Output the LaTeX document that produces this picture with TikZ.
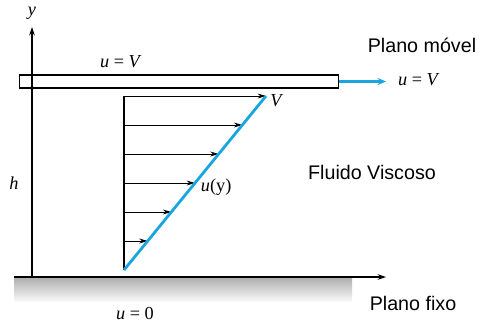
\documentclass[tikz,border=0pt]{standalone}
\usepackage{fontspec}
\setmainfont{Liberation Sans}
\newfontfamily\timesfont{Liberation Serif}
\usetikzlibrary{arrows.meta,calc}

\definecolor{flowblue}{HTML}{1BA5DF}
\newcommand{\tv}[1]{{\itshape #1}}

\tikzset{
  axisarrow/.style={thick,-{Stealth[length=6pt,width=4pt]}},
  velarrow/.style={semithick,-{Stealth[length=6pt,width=3.5pt]}},
  plaintext/.style={font=\fontsize{14}{16}\selectfont},
  mathlabel/.style={font=\fontsize{13}{15}\selectfont\timesfont}
}

\begin{document}
\begin{tikzpicture}[x=0.025cm,y=0.025cm]
\useasboundingbox (0,0) rectangle (484,324);

% Fixed plane (shaded)
\shade[top color=gray!65,bottom color=gray!5] (14,23) rectangle (352,47);
\coordinate (G0) at (14,47);
\coordinate (G1) at (386,47);
\draw[axisarrow] (G0) -- (G1);

% y axis
\coordinate (A0) at (32,47);
\coordinate (A1) at (32,297);
\draw[axisarrow] (A0) -- (A1);
\node[mathlabel] (ylab) at (32,311) {\tv{y}};

% Moving plane
\node[draw,thick,minimum width=319*0.025cm,minimum height=13*0.025cm,inner sep=0pt,anchor=west] (plate) at (19,242.5) {};
\coordinate (M1) at (386,242.5);
\draw[flowblue,line width=1.6pt,-{Stealth[length=6pt,width=5pt]}] (plate.east) -- (M1);
\node[mathlabel] (uvtop) at (120,262) {\tv{u} = \tv{V}};
\node[mathlabel] (uvright) at (418,244) {\tv{u} = \tv{V}};
\node[plaintext] (movel) at (422,279) {Plano móvel};

% Velocity profile
\coordinate (P0) at (124,54);
\coordinate (P1) at (266,228);
\coordinate (PT) at (124,228);
\draw[thick] (P0) -- (PT);
\foreach \k in {1,...,6}
  \draw[velarrow] (P0 |- {$(P0)!\k/6!(P1)$}) -- ($(P0)!\k/6!(P1)$);
\draw[flowblue,line width=2pt] (P0) -- (P1);
\node[mathlabel] (vlab) at (276,223) {\tv{V}};
\node[mathlabel,anchor=west] (uy) at (196,137) {\tv{u}(y)};

% Labels
\node[mathlabel] (hlab) at (14,141) {\tv{h}};
\node[plaintext] (fluido) at (372,152) {Fluido Viscoso};
\node[mathlabel] (u0) at (135,10) {\tv{u} = 0};
\node[plaintext] (fixo) at (413,21) {Plano fixo};

\end{tikzpicture}
\end{document}
